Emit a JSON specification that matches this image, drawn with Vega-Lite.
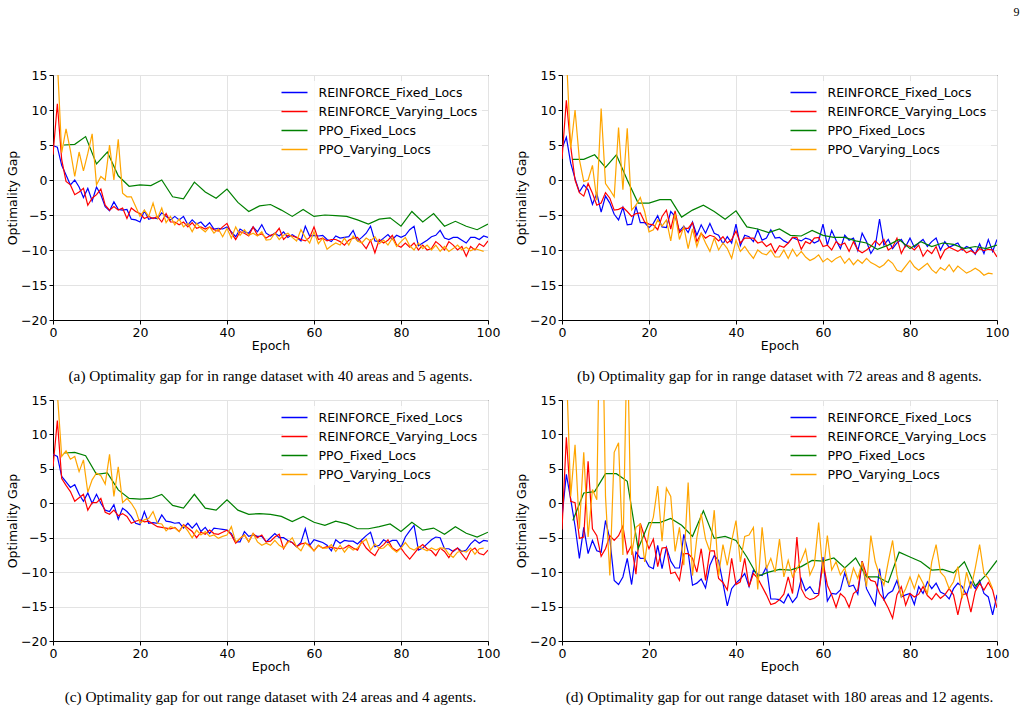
{
"$schema":"https://vega.github.io/schema/vega-lite/v6.json",
"padding":{"left":6,"top":5,"right":0,"bottom":0},
"title":{"text":"9","anchor":"end","font":"Liberation Serif","fontSize":12,"fontWeight":"normal","color":"black","dx":10,"offset":50},
"datasets":{"rows":[
{"p":"a","x":0,"b":4.9,"r":3.6},
{"p":"a","x":2.5,"g":5.0},{"p":"a","x":5,"g":5.1},{"p":"a","x":7.5,"g":6.2},{"p":"a","x":10,"g":2.3},{"p":"a","x":12.5,"g":4.0},{"p":"a","x":15,"g":0.6},{"p":"a","x":17.5,"g":-0.9},{"p":"a","x":20,"g":-0.7},{"p":"a","x":22.5,"g":-0.8},{"p":"a","x":25,"g":0},{"p":"a","x":27.5,"g":-2.4},{"p":"a","x":30,"g":-2.7},{"p":"a","x":32.5,"g":-0.3},{"p":"a","x":35,"g":-1.7},{"p":"a","x":37.5,"g":-2.6},{"p":"a","x":40,"g":-1.3},{"p":"a","x":42.5,"g":-3.2},{"p":"a","x":45,"g":-4.5},{"p":"a","x":47.5,"g":-3.7},{"p":"a","x":50,"g":-3.5},{"p":"a","x":52.5,"g":-4.3},{"p":"a","x":55,"g":-5.2},{"p":"a","x":57.5,"g":-4.2},{"p":"a","x":60,"g":-5.2},{"p":"a","x":62.5,"g":-5.0},{"p":"a","x":65,"g":-5.1},{"p":"a","x":67.5,"g":-5.2},{"p":"a","x":70,"g":-5.7},{"p":"a","x":72.5,"g":-6.3},{"p":"a","x":75,"g":-5.6},{"p":"a","x":77.5,"g":-5.4},{"p":"a","x":80,"g":-6.6},{"p":"a","x":82.5,"g":-4.5},{"p":"a","x":85,"g":-6.0},{"p":"a","x":87.5,"g":-4.8},{"p":"a","x":90,"g":-6.6},{"p":"a","x":92.5,"g":-5.9},{"p":"a","x":95,"g":-6.6},{"p":"a","x":97.5,"g":-7.1},{"p":"a","x":100,"g":-6.3},
{"p":"a","x":1,"b":4.7,"r":10.9,"o":17},{"p":"a","x":2,"b":2.1,"r":2.9,"o":3.9},{"p":"a","x":3,"b":0.7,"r":-0.2,"o":7.3},{"p":"a","x":4,"b":-0.7,"r":-0.7,"o":4.2},{"p":"a","x":5,"b":0,"r":-2.1,"o":0.5},{"p":"a","x":6,"b":-1.0,"r":-1.7,"o":4.0},{"p":"a","x":7,"b":-2.5,"r":-1.2,"o":1.3},{"p":"a","x":8,"b":-1.2,"r":-3.6,"o":3.8},{"p":"a","x":9,"b":-3.0,"r":-2.6,"o":6.6},{"p":"a","x":10,"b":-1.0,"r":-2.1,"o":-0.7},
{"p":"a","x":11,"b":-2.1,"r":-1.3,"o":0.5},{"p":"a","x":12,"b":-3.8,"r":-3.6,"o":0},{"p":"a","x":13,"b":-4.4,"r":-4.3,"o":5.0},{"p":"a","x":14,"b":-3.1,"r":-3.8,"o":0},{"p":"a","x":15,"b":-4.2,"r":-4.3,"o":5.8},{"p":"a","x":16,"b":-4.3,"r":-4.0,"o":-1.9},{"p":"a","x":17,"b":-4.2,"r":-5.5,"o":-2.4},{"p":"a","x":18,"b":-5.6,"r":-4.0,"o":-2.4},{"p":"a","x":19,"b":-5.7,"r":-4.5,"o":-3.8},{"p":"a","x":20,"b":-6.0,"r":-4.8,"o":-5.2},
{"p":"a","x":21,"b":-4.4,"r":-5.5,"o":-4.3},{"p":"a","x":22,"b":-5.6,"r":-5.2,"o":-5.2},{"p":"a","x":23,"b":-5.4,"r":-5.5,"o":-3.3},{"p":"a","x":24,"b":-5.5,"r":-5.2,"o":-5.5},{"p":"a","x":25,"b":-4.7,"r":-6.0,"o":-4.0},{"p":"a","x":26,"b":-5.2,"r":-4.8,"o":-6.1},{"p":"a","x":27,"b":-5.7,"r":-6.0,"o":-5.2},{"p":"a","x":28,"b":-5.2,"r":-6.0,"o":-6.4},{"p":"a","x":29,"b":-5.7,"r":-6.4,"o":-5.6},{"p":"a","x":30,"b":-5.2,"r":-6.0,"o":-6.7},
{"p":"a","x":31,"b":-6.4,"r":-6.7,"o":-6.2},{"p":"a","x":32,"b":-5.7,"r":-6.1,"o":-7.4},{"p":"a","x":33,"b":-6.3,"r":-6.9,"o":-6.2},{"p":"a","x":34,"b":-6.0,"r":-6.7,"o":-6.9},{"p":"a","x":35,"b":-6.7,"r":-7.0,"o":-7.4},{"p":"a","x":36,"b":-6.1,"r":-6.7,"o":-6.7},{"p":"a","x":37,"b":-7.0,"r":-7.1,"o":-7.6},{"p":"a","x":38,"b":-6.9,"r":-7.3,"o":-7.0},{"p":"a","x":39,"b":-7.0,"r":-6.7,"o":-8.1},{"p":"a","x":40,"b":-6.7,"r":-6.2,"o":-6.9},
{"p":"a","x":41,"b":-7.4,"r":-7.6,"o":-8.3},{"p":"a","x":42,"b":-8.1,"r":-8.5,"o":-6.7},{"p":"a","x":43,"b":-7.0,"r":-7.4,"o":-7.9},{"p":"a","x":44,"b":-7.4,"r":-7.6,"o":-7.1},{"p":"a","x":45,"b":-7.6,"r":-8.0,"o":-7.9},{"p":"a","x":46,"b":-6.7,"r":-6.7,"o":-7.6},{"p":"a","x":47,"b":-7.4,"r":-7.9,"o":-8.0},{"p":"a","x":48,"b":-6.4,"r":-7.7,"o":-7.4},{"p":"a","x":49,"b":-7.6,"r":-8.3,"o":-8.6},{"p":"a","x":50,"b":-8.0,"r":-7.9,"o":-8.5},
{"p":"a","x":51,"b":-7.6,"r":-7.7,"o":-7.6},{"p":"a","x":52,"b":-8.0,"r":-6.9,"o":-8.5},{"p":"a","x":53,"b":-7.4,"r":-8.5,"o":-7.9},{"p":"a","x":54,"b":-8.2,"r":-7.9,"o":-7.6},{"p":"a","x":55,"b":-7.8,"r":-8.0,"o":-8.2},{"p":"a","x":56,"b":-8.2,"r":-8.2,"o":-8.7},{"p":"a","x":57,"b":-8.7,"r":-8.5,"o":-7.1},{"p":"a","x":58,"b":-6.6,"r":-8.7,"o":-8.2},{"p":"a","x":59,"b":-8.0,"r":-8.2,"o":-9.0},{"p":"a","x":60,"b":-7.9,"r":-6.7,"o":-7.4},
{"p":"a","x":61,"b":-8.0,"r":-8.5,"o":-9.1},{"p":"a","x":62,"b":-7.9,"r":-8.3,"o":-8.3},{"p":"a","x":63,"b":-8.5,"r":-8.7,"o":-9.9},{"p":"a","x":64,"b":-8.8,"r":-8.5,"o":-9.4},{"p":"a","x":65,"b":-8.0,"r":-8.5,"o":-9.0},{"p":"a","x":66,"b":-8.3,"r":-8.8,"o":-9.3},{"p":"a","x":67,"b":-8.2,"r":-9.3,"o":-8.3},{"p":"a","x":68,"b":-8.1,"r":-8.6,"o":-9.3},{"p":"a","x":69,"b":-7.2,"r":-8.3,"o":-8.0},{"p":"a","x":70,"b":-8.7,"r":-8.2,"o":-8.7},
{"p":"a","x":71,"b":-8.2,"r":-9.0,"o":-9.0},{"p":"a","x":72,"b":-7.6,"r":-9.8,"o":-8.3},{"p":"a","x":73,"b":-6.6,"r":-8.6,"o":-8.7},{"p":"a","x":74,"b":-8.7,"r":-10.4,"o":-8.1},{"p":"a","x":75,"b":-8.8,"r":-8.5,"o":-9.1},{"p":"a","x":76,"b":-8.3,"r":-9.0,"o":-8.6},{"p":"a","x":77,"b":-7.8,"r":-8.6,"o":-9.3},{"p":"a","x":78,"b":-8.5,"r":-7.9,"o":-8.3},{"p":"a","x":79,"b":-7.9,"r":-9.3,"o":-9.5},{"p":"a","x":80,"b":-8.2,"r":-9.6,"o":-8.8},
{"p":"a","x":81,"b":-7.9,"r":-9.0,"o":-8.2},{"p":"a","x":82,"b":-7.1,"r":-9.6,"o":-9.4},{"p":"a","x":83,"b":-6.6,"r":-9.0,"o":-10.0},{"p":"a","x":84,"b":-9.4,"r":-10.0,"o":-9.0},{"p":"a","x":85,"b":-9.0,"r":-9.3,"o":-9.8},{"p":"a","x":86,"b":-8.6,"r":-10.0,"o":-9.3},{"p":"a","x":87,"b":-8.1,"r":-9.8,"o":-10.0},{"p":"a","x":88,"b":-7.9,"r":-8.8,"o":-9.3},{"p":"a","x":89,"b":-7.2,"r":-9.3,"o":-10.2},{"p":"a","x":90,"b":-8.3,"r":-10.0,"o":-9.5},
{"p":"a","x":91,"b":-8.5,"r":-8.8,"o":-10.2},{"p":"a","x":92,"b":-8.2,"r":-9.3,"o":-9.8},{"p":"a","x":93,"b":-8.2,"r":-10.0,"o":-9.3},{"p":"a","x":94,"b":-8.6,"r":-9.5,"o":-10.0},{"p":"a","x":95,"b":-9.0,"r":-10.9,"o":-9.6},{"p":"a","x":96,"b":-8.2,"r":-9.5,"o":-10.1},{"p":"a","x":97,"b":-8.2,"r":-10.0,"o":-9.8},{"p":"a","x":98,"b":-8.5,"r":-9.1,"o":-10.0},{"p":"a","x":99,"b":-8.0,"r":-9.5,"o":-10.2},{"p":"a","x":100,"b":-8.2,"r":-8.7},

{"p":"b","x":0,"b":4.5,"r":3.0},
{"p":"b","x":2.5,"g":2.95},{"p":"b","x":5,"g":2.95},{"p":"b","x":7.5,"g":3.6},{"p":"b","x":10,"g":1.8},{"p":"b","x":12.5,"g":3.6},{"p":"b","x":15,"g":0},{"p":"b","x":17.5,"g":-3.3},{"p":"b","x":20,"g":-3.3},{"p":"b","x":22.5,"g":-2.8},{"p":"b","x":25,"g":-2.8},{"p":"b","x":27.5,"g":-5.3},{"p":"b","x":30,"g":-4.3},{"p":"b","x":32.5,"g":-3.6},{"p":"b","x":35,"g":-4.5},{"p":"b","x":37.5,"g":-5.6},{"p":"b","x":40,"g":-4.4},{"p":"b","x":42.5,"g":-6.7},{"p":"b","x":45,"g":-7.0},{"p":"b","x":47.5,"g":-7.5},{"p":"b","x":50,"g":-7.0},{"p":"b","x":52.5,"g":-7.9},{"p":"b","x":55,"g":-8.0},{"p":"b","x":57.5,"g":-7.2},{"p":"b","x":60,"g":-7.9},{"p":"b","x":62.5,"g":-8.2},{"p":"b","x":65,"g":-8.2},{"p":"b","x":67.5,"g":-8.7},{"p":"b","x":70,"g":-9.0},{"p":"b","x":72.5,"g":-9.9},{"p":"b","x":75,"g":-9.3},{"p":"b","x":77.5,"g":-8.5},{"p":"b","x":80,"g":-9.8},{"p":"b","x":82.5,"g":-8.8},{"p":"b","x":85,"g":-9.5},{"p":"b","x":87.5,"g":-9.0},{"p":"b","x":90,"g":-9.2},{"p":"b","x":92.5,"g":-9.8},{"p":"b","x":95,"g":-9.5},{"p":"b","x":97.5,"g":-9.8},{"p":"b","x":100,"g":-9.3},
{"p":"b","x":1,"b":6.1,"r":11.4,"o":18},{"p":"b","x":2,"b":2.4,"r":4.8,"o":4.5},{"p":"b","x":3,"b":0.2,"r":0,"o":10.0},{"p":"b","x":4,"b":-1.7,"r":-1.8,"o":2.9},{"p":"b","x":5,"b":-0.7,"r":-2.3,"o":-0.2},{"p":"b","x":6,"b":-1.4,"r":-0.5,"o":0},{"p":"b","x":7,"b":-3.5,"r":-1.9,"o":2.1},{"p":"b","x":8,"b":-1.9,"r":-3.6,"o":-2.9},{"p":"b","x":9,"b":-4.6,"r":-3.3,"o":10.2},{"p":"b","x":10,"b":-2.3,"r":-1.8,"o":-0.5},
{"p":"b","x":11,"b":-3.3,"r":-2.6,"o":-1.4},{"p":"b","x":12,"b":-4.9,"r":-4.3,"o":-2.4},{"p":"b","x":13,"b":-5.7,"r":-4.2,"o":7.5},{"p":"b","x":14,"b":-3.9,"r":-3.9,"o":-1.4},{"p":"b","x":15,"b":-6.4,"r":-4.5,"o":7.4},{"p":"b","x":16,"b":-6.3,"r":-5.2,"o":-4.3},{"p":"b","x":17,"b":-3.8,"r":-4.8,"o":-3.6},{"p":"b","x":18,"b":-6.1,"r":-4.7,"o":-2.5},{"p":"b","x":19,"b":-6.1,"r":-6.0,"o":-4.5},{"p":"b","x":20,"b":-6.8,"r":-6.3,"o":-7.4},
{"p":"b","x":21,"b":-6.2,"r":-6.4,"o":-7.1},{"p":"b","x":22,"b":-5.1,"r":-7.1,"o":-5.7},{"p":"b","x":23,"b":-6.7,"r":-5.2,"o":-6.6},{"p":"b","x":24,"b":-6.8,"r":-4.3,"o":-5.7},{"p":"b","x":25,"b":-4.5,"r":-7.0,"o":-8.7},{"p":"b","x":26,"b":-5.2,"r":-4.4,"o":-4.8},{"p":"b","x":27,"b":-7.3,"r":-7.5,"o":-8.5},{"p":"b","x":28,"b":-6.6,"r":-6.9,"o":-6.7},{"p":"b","x":29,"b":-7.5,"r":-6.9,"o":-9.8},{"p":"b","x":30,"b":-6.0,"r":-6.1,"o":-7.0},
{"p":"b","x":31,"b":-7.9,"r":-8.8,"o":-9.5},{"p":"b","x":32,"b":-6.4,"r":-7.6,"o":-7.6},{"p":"b","x":33,"b":-7.6,"r":-8.3,"o":-9.0},{"p":"b","x":34,"b":-6.2,"r":-7.9,"o":-10.2},{"p":"b","x":35,"b":-7.6,"r":-8.1,"o":-8.3},{"p":"b","x":36,"b":-7.9,"r":-8.7,"o":-10.0},{"p":"b","x":37,"b":-9.1,"r":-8.1,"o":-9.0},{"p":"b","x":38,"b":-8.1,"r":-9.0,"o":-9.8},{"p":"b","x":39,"b":-9.0,"r":-8.5,"o":-11.2},{"p":"b","x":40,"b":-6.3,"r":-7.3,"o":-8.6},
{"p":"b","x":41,"b":-9.4,"r":-9.0,"o":-10.2},{"p":"b","x":42,"b":-7.9,"r":-8.3,"o":-9.5},{"p":"b","x":43,"b":-8.1,"r":-8.3,"o":-10.4},{"p":"b","x":44,"b":-8.8,"r":-8.3,"o":-11.2},{"p":"b","x":45,"b":-7.1,"r":-9.0,"o":-10.0},{"p":"b","x":46,"b":-8.6,"r":-8.8,"o":-10.5},{"p":"b","x":47,"b":-8.3,"r":-9.5,"o":-10.7},{"p":"b","x":48,"b":-7.1,"r":-9.1,"o":-10.0},{"p":"b","x":49,"b":-8.3,"r":-10.4,"o":-11.0},{"p":"b","x":50,"b":-8.2,"r":-9.4,"o":-11.0},
{"p":"b","x":51,"b":-8.7,"r":-9.6,"o":-10.0},{"p":"b","x":52,"b":-9.0,"r":-9.0,"o":-11.2},{"p":"b","x":53,"b":-8.2,"r":-8.2,"o":-9.9},{"p":"b","x":54,"b":-8.5,"r":-8.2,"o":-10.9},{"p":"b","x":55,"b":-8.7,"r":-9.9,"o":-10.2},{"p":"b","x":56,"b":-8.3,"r":-8.8,"o":-11.0},{"p":"b","x":57,"b":-8.5,"r":-9.1,"o":-11.5},{"p":"b","x":58,"b":-9.0,"r":-8.3,"o":-11.2},{"p":"b","x":59,"b":-8.7,"r":-8.2,"o":-10.7},{"p":"b","x":60,"b":-6.3,"r":-9.5,"o":-11.7},
{"p":"b","x":61,"b":-9.3,"r":-9.3,"o":-11.2},{"p":"b","x":62,"b":-7.2,"r":-10.0,"o":-11.7},{"p":"b","x":63,"b":-8.6,"r":-8.8,"o":-11.2},{"p":"b","x":64,"b":-9.8,"r":-9.3,"o":-10.9},{"p":"b","x":65,"b":-7.9,"r":-9.0,"o":-11.9},{"p":"b","x":66,"b":-8.6,"r":-10.2,"o":-11.2},{"p":"b","x":67,"b":-8.3,"r":-8.8,"o":-12.1},{"p":"b","x":68,"b":-10.1,"r":-10.0,"o":-11.4},{"p":"b","x":69,"b":-7.6,"r":-10.4,"o":-11.9},{"p":"b","x":70,"b":-8.8,"r":-10.0,"o":-11.2},
{"p":"b","x":71,"b":-10.5,"r":-9.5,"o":-11.8},{"p":"b","x":72,"b":-9.5,"r":-8.7,"o":-12.1},{"p":"b","x":73,"b":-5.6,"r":-9.3,"o":-12.5},{"p":"b","x":74,"b":-9.3,"r":-8.5,"o":-12.1},{"p":"b","x":75,"b":-8.5,"r":-10.0,"o":-11.4},{"p":"b","x":76,"b":-9.8,"r":-9.6,"o":-11.9},{"p":"b","x":77,"b":-9.0,"r":-8.3,"o":-12.9},{"p":"b","x":78,"b":-8.5,"r":-10.5,"o":-13.1},{"p":"b","x":79,"b":-9.5,"r":-9.3,"o":-12.3},{"p":"b","x":80,"b":-8.3,"r":-9.5,"o":-11.5},
{"p":"b","x":81,"b":-9.6,"r":-10.0,"o":-12.4},{"p":"b","x":82,"b":-9.0,"r":-9.3,"o":-12.9},{"p":"b","x":83,"b":-8.5,"r":-10.9,"o":-12.4},{"p":"b","x":84,"b":-9.5,"r":-10.0,"o":-11.9},{"p":"b","x":85,"b":-8.8,"r":-10.5,"o":-12.8},{"p":"b","x":86,"b":-8.3,"r":-9.5,"o":-13.3},{"p":"b","x":87,"b":-10.0,"r":-11.2,"o":-12.5},{"p":"b","x":88,"b":-8.8,"r":-10.0,"o":-12.9},{"p":"b","x":89,"b":-9.6,"r":-9.6,"o":-12.1},{"p":"b","x":90,"b":-9.3,"r":-9.9,"o":-13.1},
{"p":"b","x":91,"b":-9.0,"r":-10.2,"o":-12.3},{"p":"b","x":92,"b":-10.0,"r":-9.8,"o":-12.8},{"p":"b","x":93,"b":-9.5,"r":-10.4,"o":-13.3},{"p":"b","x":94,"b":-9.8,"r":-10.1,"o":-13.0},{"p":"b","x":95,"b":-10.6,"r":-10.5,"o":-12.6},{"p":"b","x":96,"b":-9.1,"r":-9.8,"o":-13.0},{"p":"b","x":97,"b":-10.5,"r":-10.1,"o":-13.6},{"p":"b","x":98,"b":-8.5,"r":-9.9,"o":-13.3},{"p":"b","x":99,"b":-10.2,"r":-10.0,"o":-13.4},{"p":"b","x":100,"b":-8.5,"r":-11.0},

{"p":"c","x":0,"b":7.1,"r":5.3},
{"p":"c","x":2.5,"g":7.3},{"p":"c","x":5,"g":7.4},{"p":"c","x":7.5,"g":6.9},{"p":"c","x":10,"g":4.2},{"p":"c","x":12.5,"g":4.4},{"p":"c","x":15,"g":1.95},{"p":"c","x":17.5,"g":0.7},{"p":"c","x":20,"g":0.6},{"p":"c","x":22.5,"g":0.7},{"p":"c","x":25,"g":1.3},{"p":"c","x":27.5,"g":-0.3},{"p":"c","x":30,"g":-0.7},{"p":"c","x":32.5,"g":1.3},{"p":"c","x":35,"g":-0.7},{"p":"c","x":37.5,"g":-1.0},{"p":"c","x":40,"g":0.5},{"p":"c","x":42.5,"g":-1.0},{"p":"c","x":45,"g":-1.6},{"p":"c","x":47.5,"g":-1.5},{"p":"c","x":50,"g":-1.6},{"p":"c","x":52.5,"g":-1.9},{"p":"c","x":55,"g":-2.65},{"p":"c","x":57.5,"g":-1.9},{"p":"c","x":60,"g":-2.75},{"p":"c","x":62.5,"g":-3.2},{"p":"c","x":65,"g":-2.6},{"p":"c","x":67.5,"g":-3.0},{"p":"c","x":70,"g":-3.7},{"p":"c","x":72.5,"g":-3.7},{"p":"c","x":75,"g":-3.4},{"p":"c","x":77.5,"g":-3.0},{"p":"c","x":80,"g":-4.1},{"p":"c","x":82.5,"g":-2.75},{"p":"c","x":85,"g":-3.9},{"p":"c","x":87.5,"g":-3.6},{"p":"c","x":90,"g":-4.5},{"p":"c","x":92.5,"g":-3.4},{"p":"c","x":95,"g":-4.35},{"p":"c","x":97.5,"g":-4.9},{"p":"c","x":100,"g":-4.2},
{"p":"c","x":1,"b":6.8,"r":12.0,"o":16},{"p":"c","x":2,"b":3.9,"r":3.6,"o":6.8},{"p":"c","x":3,"b":3.1,"r":2.6,"o":7.6},{"p":"c","x":4,"b":2.3,"r":1.7,"o":6.4},{"p":"c","x":5,"b":2.7,"r":0.3,"o":6.8},{"p":"c","x":6,"b":1.3,"r":0.8,"o":4.6},{"p":"c","x":7,"b":0.3,"r":1.3,"o":6.3},{"p":"c","x":8,"b":1.5,"r":-1.0,"o":1.6},{"p":"c","x":9,"b":0,"r":0.1,"o":3.4},{"p":"c","x":10,"b":1.3,"r":0.1,"o":4.4},
{"p":"c","x":11,"b":0,"r":0.7,"o":4.0},{"p":"c","x":12,"b":-1.0,"r":-1.3,"o":2.8},{"p":"c","x":13,"b":-1.2,"r":-1.6,"o":7.1},{"p":"c","x":14,"b":-0.2,"r":-1.0,"o":1.0},{"p":"c","x":15,"b":-2.3,"r":-1.8,"o":5.3},{"p":"c","x":16,"b":-0.7,"r":-1.5,"o":0.1},{"p":"c","x":17,"b":-1.2,"r":-1.9,"o":0.7},{"p":"c","x":18,"b":-1.9,"r":-2.9,"o":0},{"p":"c","x":19,"b":-2.9,"r":-2.6,"o":-1.0},{"p":"c","x":20,"b":-3.1,"r":-2.4,"o":-2.9},
{"p":"c","x":21,"b":-1.2,"r":-2.7,"o":-2.4},{"p":"c","x":22,"b":-2.9,"r":-2.6,"o":-2.2},{"p":"c","x":23,"b":-2.8,"r":-3.0,"o":-1.2},{"p":"c","x":24,"b":-2.9,"r":-3.4,"o":-2.9},{"p":"c","x":25,"b":-1.7,"r":-3.5,"o":-3.0},{"p":"c","x":26,"b":-2.6,"r":-3.6,"o":-4.0},{"p":"c","x":27,"b":-2.7,"r":-3.7,"o":-3.4},{"p":"c","x":28,"b":-2.9,"r":-3.5,"o":-3.6},{"p":"c","x":29,"b":-2.8,"r":-4.1,"o":-4.1},{"p":"c","x":30,"b":-3.6,"r":-3.1,"o":-3.2},
{"p":"c","x":31,"b":-2.9,"r":-3.6,"o":-4.0},{"p":"c","x":32,"b":-3.6,"r":-4.1,"o":-5.0},{"p":"c","x":33,"b":-2.9,"r":-5.0,"o":-3.9},{"p":"c","x":34,"b":-4.1,"r":-4.2,"o":-4.6},{"p":"c","x":35,"b":-3.5,"r":-4.5,"o":-4.1},{"p":"c","x":36,"b":-4.4,"r":-3.9,"o":-4.8},{"p":"c","x":37,"b":-3.6,"r":-4.4,"o":-4.6},{"p":"c","x":38,"b":-3.7,"r":-4.5,"o":-5.1},{"p":"c","x":39,"b":-3.8,"r":-4.2,"o":-4.8},{"p":"c","x":40,"b":-3.9,"r":-3.9,"o":-4.6},
{"p":"c","x":41,"b":-4.4,"r":-4.6,"o":-3.4},{"p":"c","x":42,"b":-5.6,"r":-5.8,"o":-5.6},{"p":"c","x":43,"b":-5.6,"r":-5.1,"o":-5.1},{"p":"c","x":44,"b":-4.1,"r":-4.6,"o":-4.6},{"p":"c","x":45,"b":-4.8,"r":-5.6,"o":-5.6},{"p":"c","x":46,"b":-4.6,"r":-4.4,"o":-4.4},{"p":"c","x":47,"b":-4.8,"r":-5.0,"o":-5.6},{"p":"c","x":48,"b":-4.8,"r":-4.6,"o":-6.1},{"p":"c","x":49,"b":-5.6,"r":-5.6,"o":-5.8},{"p":"c","x":50,"b":-5.0,"r":-5.5,"o":-6.1},
{"p":"c","x":51,"b":-4.4,"r":-4.9,"o":-5.4},{"p":"c","x":52,"b":-5.0,"r":-4.5,"o":-6.1},{"p":"c","x":53,"b":-5.0,"r":-6.6,"o":-6.5},{"p":"c","x":54,"b":-5.4,"r":-5.5,"o":-5.7},{"p":"c","x":55,"b":-5.7,"r":-5.7,"o":-5.0},{"p":"c","x":56,"b":-6.3,"r":-6.3,"o":-6.3},{"p":"c","x":57,"b":-5.7,"r":-5.9,"o":-6.9},{"p":"c","x":58,"b":-3.7,"r":-5.8,"o":-5.7},{"p":"c","x":59,"b":-6.1,"r":-6.1,"o":-6.3},{"p":"c","x":60,"b":-5.3,"r":-6.9,"o":-6.9},
{"p":"c","x":61,"b":-5.5,"r":-6.1,"o":-6.1},{"p":"c","x":62,"b":-5.7,"r":-6.5,"o":-6.5},{"p":"c","x":63,"b":-6.1,"r":-6.3,"o":-6.5},{"p":"c","x":64,"b":-6.9,"r":-6.4,"o":-6.0},{"p":"c","x":65,"b":-5.3,"r":-6.5,"o":-7.0},{"p":"c","x":66,"b":-5.8,"r":-6.6,"o":-6.1},{"p":"c","x":67,"b":-5.4,"r":-6.5,"o":-7.1},{"p":"c","x":68,"b":-5.5,"r":-6.1,"o":-6.3},{"p":"c","x":69,"b":-5.5,"r":-6.5,"o":-6.8},{"p":"c","x":70,"b":-5.9,"r":-6.8,"o":-6.5},
{"p":"c","x":71,"b":-5.3,"r":-5.5,"o":-5.7},{"p":"c","x":72,"b":-4.7,"r":-6.5,"o":-5.2},{"p":"c","x":73,"b":-4.2,"r":-7.1,"o":-6.8},{"p":"c","x":74,"b":-6.3,"r":-7.6,"o":-5.9},{"p":"c","x":75,"b":-6.1,"r":-6.5,"o":-6.6},{"p":"c","x":76,"b":-5.3,"r":-6.0,"o":-6.5},{"p":"c","x":77,"b":-5.7,"r":-5.3,"o":-5.9},{"p":"c","x":78,"b":-5.4,"r":-6.5,"o":-6.6},{"p":"c","x":79,"b":-5.4,"r":-6.9,"o":-7.1},{"p":"c","x":80,"b":-6.4,"r":-6.5,"o":-6.5},
{"p":"c","x":81,"b":-4.9,"r":-7.4,"o":-5.7},{"p":"c","x":82,"b":-4.0,"r":-8.1,"o":-6.5},{"p":"c","x":83,"b":-3.2,"r":-7.3,"o":-6.8},{"p":"c","x":84,"b":-6.8,"r":-6.5,"o":-6.3},{"p":"c","x":85,"b":-6.5,"r":-6.0,"o":-6.6},{"p":"c","x":86,"b":-5.9,"r":-6.6,"o":-6.9},{"p":"c","x":87,"b":-5.3,"r":-6.9,"o":-6.5},{"p":"c","x":88,"b":-4.9,"r":-7.6,"o":-6.8},{"p":"c","x":89,"b":-5.0,"r":-6.5,"o":-6.5},{"p":"c","x":90,"b":-6.6,"r":-7.0,"o":-6.5},
{"p":"c","x":91,"b":-6.6,"r":-7.9,"o":-7.4},{"p":"c","x":92,"b":-7.0,"r":-6.9,"o":-7.85},{"p":"c","x":93,"b":-6.5,"r":-6.5,"o":-7.1},{"p":"c","x":94,"b":-7.0,"r":-7.4,"o":-6.9},{"p":"c","x":95,"b":-6.8,"r":-8.2,"o":-7.1},{"p":"c","x":96,"b":-5.9,"r":-6.9,"o":-6.5},{"p":"c","x":97,"b":-5.3,"r":-6.5,"o":-7.4},{"p":"c","x":98,"b":-5.8,"r":-7.3,"o":-6.6},{"p":"c","x":99,"b":-5.4,"r":-7.5,"o":-6.5},{"p":"c","x":100,"b":-5.5,"r":-6.8},

{"p":"d","x":0,"b":-2.0,"r":-3.8},
{"p":"d","x":2.5,"g":-2.5},{"p":"d","x":5,"g":1.5},{"p":"d","x":7.5,"g":1.7},{"p":"d","x":10,"g":4.3},{"p":"d","x":12.5,"g":4.3},{"p":"d","x":15,"g":3.2},{"p":"d","x":17.5,"g":-6.6},{"p":"d","x":20,"g":-2.8},{"p":"d","x":22.5,"g":-2.8},{"p":"d","x":25,"g":-2.2},{"p":"d","x":27.5,"g":-3.2},{"p":"d","x":30,"g":-4.8},{"p":"d","x":32.5,"g":-1.1},{"p":"d","x":35,"g":-5.1},{"p":"d","x":37.5,"g":-4.8},{"p":"d","x":40,"g":-5.4},{"p":"d","x":42.5,"g":-7.8},{"p":"d","x":45,"g":-10.6},{"p":"d","x":47.5,"g":-10.0},{"p":"d","x":50,"g":-9.6},{"p":"d","x":52.5,"g":-9.7},{"p":"d","x":55,"g":-9.2},{"p":"d","x":57.5,"g":-8.3},{"p":"d","x":60,"g":-8.4},{"p":"d","x":62.5,"g":-7.95},{"p":"d","x":65,"g":-9.4},{"p":"d","x":67.5,"g":-7.95},{"p":"d","x":70,"g":-10.7},{"p":"d","x":72.5,"g":-10.7},{"p":"d","x":75,"g":-11.5},{"p":"d","x":77.5,"g":-7.1},{"p":"d","x":80,"g":-7.8},{"p":"d","x":82.5,"g":-8.5},{"p":"d","x":85,"g":-9.7},{"p":"d","x":87.5,"g":-9.6},{"p":"d","x":90,"g":-10.1},{"p":"d","x":92.5,"g":-8.5},{"p":"d","x":95,"g":-12.0},{"p":"d","x":97.5,"g":-10.4},{"p":"d","x":100,"g":-8.3},
{"p":"d","x":1,"b":4.2,"r":9.6,"o":20},{"p":"d","x":2,"b":0.6,"r":0.3,"o":1.0},{"p":"d","x":3,"b":-3.3,"r":0.1,"o":8.5},{"p":"d","x":4,"b":-8.0,"r":-5.1,"o":-3.7},{"p":"d","x":5,"b":-3.5,"r":-4.9,"o":7.4},{"p":"d","x":6,"b":-7.3,"r":6.1,"o":-4.9},{"p":"d","x":7,"b":-5.4,"r":-3.7,"o":2.0},{"p":"d","x":8,"b":-6.9,"r":-4.7,"o":0.5},{"p":"d","x":9,"b":-7.1,"r":-7.7,"o":40},{"p":"d","x":10,"b":-2.5,"r":-6.6,"o":1.0},
{"p":"d","x":11,"b":-5.2,"r":-4.7,"o":-10.5},{"p":"d","x":12,"b":-11.2,"r":-5.4,"o":7.4},{"p":"d","x":13,"b":-11.8,"r":-4.7,"o":8.8},{"p":"d","x":14,"b":-10.7,"r":-3.3,"o":-7.5},{"p":"d","x":15,"b":-8.0,"r":-7.3,"o":25},{"p":"d","x":16,"b":-11.8,"r":-6.1,"o":-7.5},{"p":"d","x":17,"b":-7.1,"r":-10.3,"o":-3.5},{"p":"d","x":18,"b":-8.0,"r":-2.9,"o":-3.0},{"p":"d","x":19,"b":-8.0,"r":-4.9,"o":-8.5},{"p":"d","x":20,"b":-9.2,"r":-6.6,"o":-4.0},
{"p":"d","x":21,"b":-9.5,"r":-5.2,"o":-2.0},{"p":"d","x":22,"b":-6.1,"r":-9.2,"o":2.5},{"p":"d","x":23,"b":-9.5,"r":-6.5,"o":-5.5},{"p":"d","x":24,"b":-6.4,"r":-6.4,"o":2.2},{"p":"d","x":25,"b":-8.4,"r":-10.2,"o":1.0},{"p":"d","x":26,"b":-9.4,"r":-10.0,"o":-7.0},{"p":"d","x":27,"b":-9.4,"r":-11.2,"o":-3.5},{"p":"d","x":28,"b":-4.5,"r":-7.3,"o":-9.0},{"p":"d","x":29,"b":-7.1,"r":-7.3,"o":3.0},{"p":"d","x":30,"b":-11.9,"r":-8.0,"o":-10.5},
{"p":"d","x":31,"b":-11.6,"r":-10.0,"o":-5.0},{"p":"d","x":32,"b":-11.0,"r":-6.6,"o":-1.5},{"p":"d","x":33,"b":-12.3,"r":-11.2,"o":-5.2},{"p":"d","x":34,"b":-9.0,"r":-6.9,"o":-7.0},{"p":"d","x":35,"b":-7.6,"r":-6.9,"o":-1.0},{"p":"d","x":36,"b":-8.3,"r":-10.9,"o":-10.5},{"p":"d","x":37,"b":-11.6,"r":-11.5,"o":-6.0},{"p":"d","x":38,"b":-14.9,"r":-12.6,"o":-9.0},{"p":"d","x":39,"b":-12.4,"r":-8.0,"o":-5.5},{"p":"d","x":40,"b":-11.6,"r":-11.8,"o":-2.5},
{"p":"d","x":41,"b":-11.0,"r":-11.4,"o":-8.5},{"p":"d","x":42,"b":-10.2,"r":-8.0,"o":-4.8},{"p":"d","x":43,"b":-12.1,"r":-12.1,"o":-4.6},{"p":"d","x":44,"b":-9.7,"r":-10.2,"o":-3.5},{"p":"d","x":45,"b":-10.3,"r":-10.9,"o":-12.5},{"p":"d","x":46,"b":-10.5,"r":-12.1,"o":-3.5},{"p":"d","x":47,"b":-9.2,"r":-13.3,"o":-9.5},{"p":"d","x":48,"b":-13.9,"r":-14.7,"o":-8.0},{"p":"d","x":49,"b":-13.9,"r":-14.5,"o":-10.0},{"p":"d","x":50,"b":-14.0,"r":-14.0,"o":-5.2},
{"p":"d","x":51,"b":-14.5,"r":-13.2,"o":-10.7},{"p":"d","x":52,"b":-13.2,"r":-10.7,"o":-8.3},{"p":"d","x":53,"b":-14.4,"r":-13.1,"o":-10.7},{"p":"d","x":54,"b":-13.6,"r":-4.9,"o":-9.5},{"p":"d","x":55,"b":-11.0,"r":-12.4,"o":-8.3},{"p":"d","x":56,"b":-12.7,"r":-13.6,"o":-6.7},{"p":"d","x":57,"b":-12.1,"r":-14.0,"o":-10.4},{"p":"d","x":58,"b":-13.1,"r":-13.8,"o":-9.0},{"p":"d","x":59,"b":-13.1,"r":-13.3,"o":-2.8},{"p":"d","x":60,"b":-7.8,"r":-8.5,"o":-10.2},
{"p":"d","x":61,"b":-14.2,"r":-11.9,"o":-4.7},{"p":"d","x":62,"b":-13.1,"r":-13.3,"o":-9.7},{"p":"d","x":63,"b":-13.2,"r":-15.1,"o":-8.5},{"p":"d","x":64,"b":-12.6,"r":-13.1,"o":-10.4},{"p":"d","x":65,"b":-10.1,"r":-13.7,"o":-9.4},{"p":"d","x":66,"b":-12.1,"r":-15.1,"o":-11.9},{"p":"d","x":67,"b":-11.9,"r":-13.1,"o":-9.4},{"p":"d","x":68,"b":-13.2,"r":-12.6,"o":-10.9},{"p":"d","x":69,"b":-8.4,"r":-8.4,"o":-8.5},{"p":"d","x":70,"b":-12.4,"r":-10.4,"o":-12.1},
{"p":"d","x":71,"b":-13.6,"r":-11.2,"o":-4.7},{"p":"d","x":72,"b":-14.8,"r":-11.4,"o":-8.5},{"p":"d","x":73,"b":-9.5,"r":-13.1,"o":-10.4},{"p":"d","x":74,"b":-14.0,"r":-14.0,"o":-11.9},{"p":"d","x":75,"b":-13.1,"r":-15.2,"o":-8.5},{"p":"d","x":76,"b":-12.7,"r":-16.7,"o":-5.4},{"p":"d","x":77,"b":-11.2,"r":-13.3,"o":-10.4},{"p":"d","x":78,"b":-13.6,"r":-12.1,"o":-13.6},{"p":"d","x":79,"b":-13.3,"r":-14.8,"o":-12.4},{"p":"d","x":80,"b":-13.1,"r":-13.1,"o":-10.7},
{"p":"d","x":81,"b":-14.7,"r":-13.6,"o":-12.4},{"p":"d","x":82,"b":-12.1,"r":-13.2,"o":-10.4},{"p":"d","x":83,"b":-13.1,"r":-12.1,"o":-11.6},{"p":"d","x":84,"b":-11.4,"r":-13.4,"o":-13.1},{"p":"d","x":85,"b":-12.4,"r":-14.0,"o":-8.5},{"p":"d","x":86,"b":-11.6,"r":-13.1,"o":-6.0},{"p":"d","x":87,"b":-12.9,"r":-13.8,"o":-10.0},{"p":"d","x":88,"b":-13.2,"r":-13.3,"o":-10.7},{"p":"d","x":89,"b":-13.9,"r":-12.4,"o":-12.4},{"p":"d","x":90,"b":-12.4,"r":-13.3,"o":-11.4},
{"p":"d","x":91,"b":-11.6,"r":-16.2,"o":-9.2},{"p":"d","x":92,"b":-12.1,"r":-13.3,"o":-13.8},{"p":"d","x":93,"b":-13.3,"r":-13.1,"o":-10.0},{"p":"d","x":94,"b":-11.4,"r":-15.8,"o":-12.4},{"p":"d","x":95,"b":-12.4,"r":-12.8,"o":-9.4},{"p":"d","x":96,"b":-11.2,"r":-11.6,"o":-6.0},{"p":"d","x":97,"b":-13.1,"r":-12.6,"o":-10.2},{"p":"d","x":98,"b":-13.6,"r":-11.5,"o":-10.9},{"p":"d","x":99,"b":-16.2,"r":-12.6,"o":-12.4},{"p":"d","x":100,"b":-13.3,"r":-15.2}
]},
"data":{"name":"rows"},
"spacing":8,
"resolve":{"legend":{"color":"independent"}},
"vconcat":[
{"hconcat":[
{"width":435,"height":245,
"title":{"text":"(a) Optimality gap for in range dataset with 40 areas and 5 agents.","orient":"bottom","frame":"group","offset":16.5},
"transform":[{"filter":"datum.p == 'a'"},{"fold":["b","r","g","o"],"as":["s","y"]},{"filter":"isValid(datum.y)"}],
"mark":{"type":"line","clip":true,"strokeWidth":1.2},
"encoding":{
"x":{"field":"x","type":"quantitative","scale":{"domain":[0,100],"nice":false},"axis":{"values":[0,20,40,60,80,100],"title":"Epoch"}},
"y":{"field":"y","type":"quantitative","scale":{"domain":[-20,15],"nice":false},"axis":{"values":[-20,-15,-10,-5,0,5,10,15],"title":"Optimality Gap"}},
"color":{"field":"s","type":"nominal","scale":{"domain":["b","r","g","o"],"range":["#0000ff","#ff0000","#008000","#ffa500"]},"legend":{"labelExpr":"datum.value == 'b' ? 'REINFORCE_Fixed_Locs' : datum.value == 'r' ? 'REINFORCE_Varying_Locs' : datum.value == 'g' ? 'PPO_Fixed_Locs' : 'PPO_Varying_Locs'"}}}},
{"width":435,"height":245,
"title":{"text":"(b) Optimality gap for in range dataset with 72 areas and 8 agents.","orient":"bottom","frame":"group","offset":16.5},
"transform":[{"filter":"datum.p == 'b'"},{"fold":["b","r","g","o"],"as":["s","y"]},{"filter":"isValid(datum.y)"}],
"mark":{"type":"line","clip":true,"strokeWidth":1.2},
"encoding":{
"x":{"field":"x","type":"quantitative","scale":{"domain":[0,100],"nice":false},"axis":{"values":[0,20,40,60,80,100],"title":"Epoch"}},
"y":{"field":"y","type":"quantitative","scale":{"domain":[-20,15],"nice":false},"axis":{"values":[-20,-15,-10,-5,0,5,10,15],"title":"Optimality Gap"}},
"color":{"field":"s","type":"nominal","scale":{"domain":["b","r","g","o"],"range":["#0000ff","#ff0000","#008000","#ffa500"]},"legend":{"labelExpr":"datum.value == 'b' ? 'REINFORCE_Fixed_Locs' : datum.value == 'r' ? 'REINFORCE_Varying_Locs' : datum.value == 'g' ? 'PPO_Fixed_Locs' : 'PPO_Varying_Locs'"}}}}
],"spacing":14,"resolve":{"legend":{"color":"independent"}}},
{"hconcat":[
{"width":435,"height":241,
"title":{"text":"(c) Optimality gap for out range dataset with 24 areas and 4 agents.","orient":"bottom","frame":"group","offset":16.5},
"transform":[{"filter":"datum.p == 'c'"},{"fold":["b","r","g","o"],"as":["s","y"]},{"filter":"isValid(datum.y)"}],
"mark":{"type":"line","clip":true,"strokeWidth":1.2},
"encoding":{
"x":{"field":"x","type":"quantitative","scale":{"domain":[0,100],"nice":false},"axis":{"values":[0,20,40,60,80,100],"title":"Epoch"}},
"y":{"field":"y","type":"quantitative","scale":{"domain":[-20,15],"nice":false},"axis":{"values":[-20,-15,-10,-5,0,5,10,15],"title":"Optimality Gap"}},
"color":{"field":"s","type":"nominal","scale":{"domain":["b","r","g","o"],"range":["#0000ff","#ff0000","#008000","#ffa500"]},"legend":{"labelExpr":"datum.value == 'b' ? 'REINFORCE_Fixed_Locs' : datum.value == 'r' ? 'REINFORCE_Varying_Locs' : datum.value == 'g' ? 'PPO_Fixed_Locs' : 'PPO_Varying_Locs'"}}}},
{"width":435,"height":241,
"title":{"text":"(d) Optimality gap for out range dataset with 180 areas and 12 agents.","orient":"bottom","frame":"group","offset":16.5},
"transform":[{"filter":"datum.p == 'd'"},{"fold":["b","r","g","o"],"as":["s","y"]},{"filter":"isValid(datum.y)"}],
"mark":{"type":"line","clip":true,"strokeWidth":1.2},
"encoding":{
"x":{"field":"x","type":"quantitative","scale":{"domain":[0,100],"nice":false},"axis":{"values":[0,20,40,60,80,100],"title":"Epoch"}},
"y":{"field":"y","type":"quantitative","scale":{"domain":[-20,15],"nice":false},"axis":{"values":[-20,-15,-10,-5,0,5,10,15],"title":"Optimality Gap"}},
"color":{"field":"s","type":"nominal","scale":{"domain":["b","r","g","o"],"range":["#0000ff","#ff0000","#008000","#ffa500"]},"legend":{"labelExpr":"datum.value == 'b' ? 'REINFORCE_Fixed_Locs' : datum.value == 'r' ? 'REINFORCE_Varying_Locs' : datum.value == 'g' ? 'PPO_Fixed_Locs' : 'PPO_Varying_Locs'"}}}}
],"spacing":14,"resolve":{"legend":{"color":"independent"}}}
],
"config":{
"font":"DejaVu Sans",
"view":{"stroke":"black","strokeWidth":1},
"axis":{"labelFont":"DejaVu Sans","labelFontSize":12.5,"labelColor":"black","titleFont":"DejaVu Sans","titleFontSize":12.5,"titleFontWeight":"normal","titleColor":"black","tickColor":"black","tickSize":4,"domainColor":"black","gridColor":"#e3e3e3","labelPadding":2,"titlePadding":1,"labelFlush":false},
"legend":{"orient":"top-right","title":null,"symbolType":"M-2,0H2","symbolSize":169,"symbolStrokeWidth":1.5,"labelFont":"DejaVu Sans","labelFontSize":12.5,"labelColor":"black","labelOffset":16.5,"rowPadding":5,"offset":6,"padding":4,"fillColor":"rgba(255,255,255,0.8)","labelLimit":300},
"title":{"font":"Liberation Serif","fontSize":15.3,"fontWeight":"normal","color":"black"}
}
}
